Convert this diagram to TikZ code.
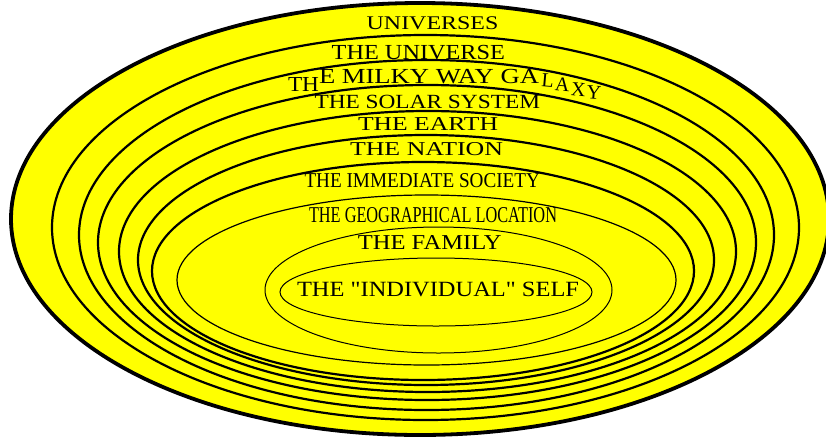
\documentclass[tikz,border=0pt]{standalone}
\usepackage{fontspec}
\setmainfont{Liberation Serif}
\newfontfamily\plainserif{Liberation Serif}[Ligatures=TeXOff]
\usepackage{graphicx}
\definecolor{ylw}{HTML}{FFFF00}
\newcommand{\fitlabel}[3]{\resizebox{#1pt}{#2pt}{#3}}
\newcommand{\tailletter}[4]{\makebox[0pt][l]{\hspace*{#1pt}\raisebox{#2pt}{\rotatebox{#3}{#4}}}}
\tikzset{
  ring/.style={draw=black, fill=ylw, line width=#1},
  lbl/.style={anchor=base west, inner sep=0pt, outer sep=0pt, text=black},
}
\begin{document}
\begin{tikzpicture}[x=1pt,y=-1pt]
\useasboundingbox (0,0) rectangle (826,437);
\begin{scope}
\clip (0,0) rectangle (826,437);
\draw[ring=3.8pt] (420,219) ellipse [x radius=409pt, y radius=216pt];
\draw[ring=2.2pt] (425.5,227.5) ellipse [x radius=373.5pt, y radius=192.5pt];
\draw[ring=2.2pt] (426.5,235) ellipse [x radius=347.5pt, y radius=175pt];
\draw[ring=2.2pt] (427,242.5) ellipse [x radius=329pt, y radius=157.5pt];
\draw[ring=2.2pt] (427.5,251.5) ellipse [x radius=308.5pt, y radius=140.5pt];
\draw[ring=2.2pt] (426,260) ellipse [x radius=288pt, y radius=125pt];
\draw[ring=2.2pt] (423,271) ellipse [x radius=271pt, y radius=109pt];
\draw[ring=1.2pt] (426.5,280) ellipse [x radius=249.5pt, y radius=85pt];
\draw[ring=1pt] (438.5,290) ellipse [x radius=173.5pt, y radius=63pt];
\draw[ring=1pt] (436,292) ellipse [x radius=156pt, y radius=34pt];
\end{scope}
% labels
\node[lbl] (universes) at (366.7,29.3) {\fitlabel{131.6}{12.8}{UNIVERSES}};
\node[lbl] (universe) at (331.7,59.3) {\fitlabel{173.3}{14.2}{THE UNIVERSE}};
\node[lbl] (mwth) at (288,91) {\fitlabel{31}{14}{TH}};
\node[lbl] (mwmid) at (319,83) {\fitlabel{220}{14.2}{E MILKY WAY GA}};
\node[lbl, font=\fontsize{20}{22}\selectfont] (mwtail) at (541,86)
  {\tailletter{0}{0}{-5}{L}\tailletter{13.5}{-4.5}{-5}{A}\tailletter{29.5}{-9}{-5}{X}\tailletter{45.2}{-12.5}{-5}{Y}\hspace*{60pt}};
\node[lbl] (solar) at (314.5,108.3) {\fitlabel{225.5}{13.3}{THE SOLAR SYSTEM}};
\node[lbl] (earth) at (358,130) {\fitlabel{140}{13}{THE EARTH}};
\node[lbl] (nation) at (350,155) {\fitlabel{153}{13}{THE NATION}};
\node[lbl] (society) at (304.5,187) {\fitlabel{235.5}{14}{THE IMMEDIATE SOCIETY}};
\node[lbl] (geo) at (309,222) {\fitlabel{248}{15}{THE GEOGRAPHICAL LOCATION}};
\node[lbl] (family) at (357.8,249) {\fitlabel{143.7}{14}{THE FAMILY}};
\node[lbl] (self) at (297,296.4) {\fitlabel{282}{14.4}{\plainserif THE "INDIVIDUAL" SELF}};
\end{tikzpicture}
\end{document}
